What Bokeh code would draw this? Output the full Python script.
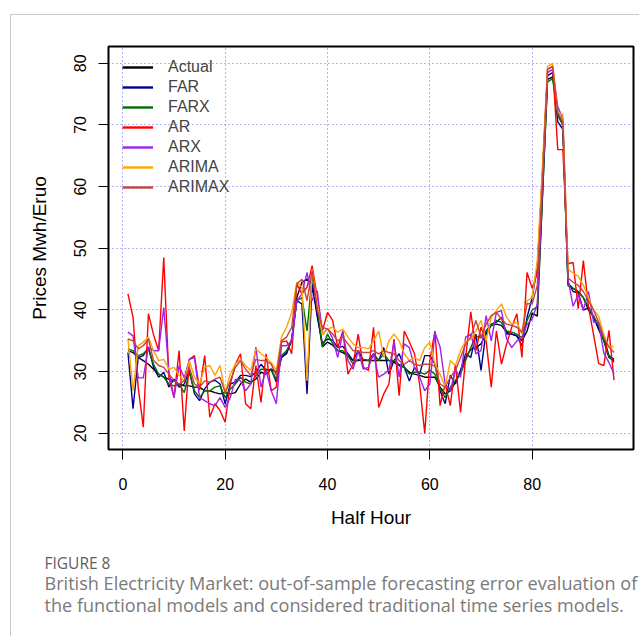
from bokeh.plotting import figure
from bokeh.models import Range1d, FixedTicker, Legend, LegendItem, Title
from bokeh.embed import file_html
from bokeh.resources import INLINE

half_hour = list(range(1, 97))

actual = [33.4, 33.1, 32.3, 31.8, 31.2, 30.4, 29.6, 29.1, 28.8, 28.5,
          28.0, 27.7, 27.7, 27.5, 27.5, 26.9, 26.9, 26.6, 26.4, 26.6,
          26.4, 26.6, 28.0, 28.8, 28.3, 28.8, 29.9, 29.6, 30.4, 29.9,
          32.3, 32.9, 35.3, 42.0, 44.5, 45.0, 44.2, 39.4, 34.0, 34.8,
          34.3, 33.4, 33.1, 32.6, 31.8, 31.8, 32.0, 31.8, 31.8, 31.8,
          31.8, 31.8, 31.5, 31.0, 30.7, 29.9, 29.6, 29.4, 29.1, 29.1,
          29.1, 27.5, 26.4, 26.9, 28.3, 30.2, 32.3, 33.6, 33.9, 34.5,
          36.1, 37.5, 37.7, 37.5, 36.4, 36.1, 35.8, 35.0, 36.6, 39.5,
          39.0, 58.0, 77.4, 77.8, 72.0, 70.0, 44.2, 43.5, 43.0, 42.0,
          40.0, 39.0, 36.8, 35.0, 32.3, 31.8]

far = [33.1, 24.0, 32.3, 32.6, 34.0, 30.7, 29.1, 29.9, 27.5, 28.8,
       27.5, 28.0, 30.2, 26.4, 25.3, 27.2, 28.3, 28.6, 28.0, 24.8,
       28.0, 28.3, 29.4, 29.4, 29.2, 29.9, 31.2, 30.2, 30.4, 28.3,
       32.3, 33.1, 35.0, 41.5, 41.0, 26.4, 44.2, 38.9, 34.6, 35.3,
       35.1, 33.9, 34.1, 32.9, 31.8, 33.4, 31.8, 31.8, 32.9, 31.8,
       33.9, 29.6, 31.8, 32.9, 30.7, 28.5, 30.7, 29.6, 32.6, 32.6,
       31.2, 26.9, 24.8, 29.4, 28.0, 30.2, 32.9, 32.3, 36.1, 30.2,
       36.6, 37.7, 38.0, 38.8, 36.1, 36.1, 35.8, 34.2, 38.8, 42.0,
       47.0, 62.0, 78.0, 78.5, 70.5, 69.3, 44.5, 43.0, 42.8, 40.0,
       40.3, 38.8, 37.0, 35.5, 32.6, 32.0]

farx = [33.7, 33.4, 32.6, 32.9, 33.7, 31.2, 29.6, 29.1, 28.0, 27.7,
        28.0, 26.6, 29.9, 26.9, 25.8, 26.9, 26.9, 27.5, 27.7, 25.8,
        27.2, 28.0, 29.1, 28.3, 28.0, 29.4, 30.4, 30.4, 30.2, 28.8,
        32.6, 33.4, 35.0, 41.5, 42.0, 36.6, 45.6, 40.5, 34.0, 36.1,
        34.6, 33.4, 33.4, 32.6, 31.2, 32.0, 32.0, 31.8, 32.6, 31.8,
        32.9, 31.8, 31.8, 31.2, 30.7, 29.6, 29.9, 29.9, 29.6, 30.2,
        29.6, 27.2, 25.8, 27.5, 28.6, 29.6, 31.8, 33.9, 35.8, 35.5,
        36.6, 37.5, 38.3, 38.0, 36.6, 36.4, 36.1, 35.5, 38.3, 40.0,
        40.5, 58.5, 77.0, 77.5, 71.5, 70.0, 43.9, 43.5, 43.0, 42.0,
        40.5, 39.0, 37.5, 35.0, 32.5, 31.5]

ar = [42.6, 38.8, 27.5, 21.0, 39.4, 36.0, 33.4, 48.5, 29.0, 25.8,
      33.4, 20.4, 32.0, 32.6, 27.0, 32.6, 22.6, 24.8, 23.7, 21.8,
      28.0, 31.2, 32.9, 24.8, 24.0, 31.0, 25.0, 32.9, 26.9, 27.5,
      34.8, 35.0, 32.9, 44.2, 42.6, 43.7, 47.2, 42.0, 36.6, 39.6,
      38.3, 33.9, 36.6, 29.6, 31.2, 36.1, 30.7, 30.2, 37.2, 24.2,
      26.4, 28.0, 35.3, 26.1, 36.6, 34.8, 32.9, 28.0, 20.0, 31.8,
      36.6, 24.5, 28.0, 24.5, 31.2, 23.4, 32.3, 39.7, 33.4, 37.2,
      35.0, 27.5, 36.6, 31.2, 34.5, 37.2, 39.4, 32.3, 46.1, 43.5,
      46.0, 62.0, 79.0, 79.5, 66.0, 66.0, 47.5, 47.7, 40.2, 48.0,
      40.5, 36.0, 31.3, 31.0, 36.7, 28.6]

arx = [36.4, 35.8, 29.0, 29.0, 34.0, 33.4, 33.4, 40.4, 30.0, 25.8,
       31.0, 29.0, 32.0, 32.3, 25.8, 25.3, 24.8, 24.5, 25.8, 24.2,
       25.8, 28.8, 28.5, 26.9, 28.0, 34.0, 27.5, 30.2, 26.9, 24.8,
       34.2, 34.2, 35.0, 41.5, 42.6, 46.1, 41.5, 43.1, 36.0, 37.0,
       35.4, 32.3, 36.4, 31.8, 30.4, 33.4, 30.4, 30.7, 32.9, 29.1,
       29.6, 30.2, 34.8, 29.1, 34.5, 33.9, 30.7, 29.1, 26.9, 28.0,
       36.4, 34.0, 28.0, 26.9, 30.2, 29.1, 35.6, 36.1, 32.9, 33.4,
       39.1, 35.0, 39.6, 39.9, 35.3, 33.9, 35.0, 35.5, 37.7, 38.5,
       41.0, 60.0, 78.5, 79.0, 73.0, 71.0, 45.0, 40.6, 42.5, 40.0,
       43.0, 38.0, 38.0, 33.0, 31.5, 29.6]

arima = [35.3, 26.9, 34.2, 34.8, 35.6, 33.4, 31.8, 32.0, 30.4, 30.7,
         29.4, 28.5, 31.8, 29.1, 28.0, 30.7, 31.0, 29.4, 31.0, 26.6,
         29.6, 31.2, 32.0, 31.0, 30.2, 33.7, 32.9, 32.3, 31.5, 30.2,
         35.6, 37.2, 39.6, 44.5, 43.7, 28.5, 46.6, 41.0, 36.0, 36.9,
         37.2, 36.4, 36.9, 35.6, 34.5, 33.9, 33.9, 33.7, 35.0, 36.6,
         32.3, 35.0, 36.1, 35.0, 32.9, 31.8, 32.3, 31.8, 33.9, 34.8,
         31.2, 29.6, 27.5, 31.8, 31.0, 33.4, 35.0, 35.3, 36.6, 38.3,
         35.0, 38.8, 39.9, 41.0, 38.8, 37.7, 38.0, 36.1, 41.5, 42.0,
         48.0, 63.0, 79.5, 80.0, 72.0, 71.7, 46.6, 46.0, 45.5, 44.0,
         42.0, 40.0, 39.0, 36.0, 34.0, 34.1]

arimax = [35.3, 35.0, 33.7, 34.2, 35.3, 31.8, 31.0, 30.7, 29.6, 28.5,
          28.0, 28.5, 30.7, 28.0, 27.5, 28.5, 28.3, 28.8, 29.1, 26.6,
          28.5, 30.7, 31.8, 30.4, 29.4, 32.0, 31.8, 31.8, 31.2, 29.4,
          35.0, 35.6, 37.2, 44.2, 45.0, 41.5, 46.4, 40.0, 37.2, 36.9,
          36.1, 35.0, 35.6, 34.5, 33.4, 33.4, 33.1, 33.1, 33.4, 32.9,
          33.4, 33.1, 32.9, 31.8, 31.2, 31.8, 31.2, 31.0, 31.2, 31.2,
          30.9, 28.0, 27.5, 29.1, 30.2, 32.3, 34.5, 35.6, 38.3, 35.6,
          37.7, 39.1, 39.6, 38.5, 37.7, 37.5, 37.2, 36.4, 41.0, 41.0,
          44.0, 61.0, 79.0, 79.5, 72.0, 70.5, 45.2, 44.5, 44.0, 43.0,
          41.5, 40.0, 38.0, 35.5, 34.0, 33.1]

series_names = ["Actual", "FAR", "FARX", "AR", "ARX", "ARIMA", "ARIMAX"]
series_values = [actual, far, farx, ar, arx, arima, arimax]
series_colors = ["#000000", "#00008B", "#007000", "#FF0000", "#A020F0", "#FFA500", "#C44444"]

x_ticks = [0, 20, 40, 60, 80]
y_ticks = [20, 30, 40, 50, 60, 70, 80]

caption_label = "FIGURE 8"
caption_lines = [
    "British Electricity Market: out-of-sample forecasting error evaluation of",
    "the functional models and considered traditional time series models.",
]

FONT = "Liberation Sans"
CAP_FONT = "Open Sans"

# The page is offset by a thin grey rule (10 px from the left, 14 px from the top).
p = figure(width=629, height=622,
           x_range=Range1d(-2.8, 99.8), y_range=Range1d(17.38, 82.72),
           output_backend="svg", toolbar_location=None,
           min_border_left=97, min_border_right=7,
           min_border_top=31, min_border_bottom=188)
p.styles = {"margin-left": "10px", "margin-top": "14px",
            "border-left": "1px solid #c8c8c8", "border-top": "1px solid #c8c8c8"}
p.background_fill_color = "white"
p.border_fill_color = "white"
p.outline_line_color = "black"
p.outline_line_width = 2

for ax in (p.xaxis[0], p.yaxis[0]):
    ax.axis_line_color = None
    ax.major_tick_in = 0
    ax.major_tick_out = 10
    ax.major_tick_line_color = "black"
    ax.major_tick_line_width = 1
    ax.minor_tick_line_color = None
    ax.major_label_text_font = FONT
    ax.major_label_text_font_size = "16px"
    ax.major_label_text_color = "black"
    ax.axis_label_text_font = FONT
    ax.axis_label_text_font_size = "19px"
    ax.axis_label_text_font_style = "normal"
    ax.axis_label_text_color = "black"

p.xaxis.ticker = FixedTicker(ticks=x_ticks)
p.yaxis.ticker = FixedTicker(ticks=y_ticks)
p.xaxis.axis_label = "Half Hour"
p.yaxis.axis_label = "Prices Mwh/Eruo"
p.yaxis.major_label_orientation = "vertical"
p.xaxis.major_label_standoff = 18
p.xaxis.axis_label_standoff = 14
p.yaxis.major_label_standoff = 12
p.yaxis.axis_label_standoff = 22

for g in (p.xgrid[0], p.ygrid[0]):
    g.grid_line_color = "#0000FF"
    g.grid_line_alpha = 0.6
    g.grid_line_dash = "1 3"
    g.grid_line_width = 1

items = []
for name, vals, col in zip(series_names, series_values, series_colors):
    p.line(half_hour, vals, line_color=col, line_width=1.4)
    # single-point line: draws nothing in the plot, only supplies a thicker legend key
    key = p.line(half_hour[:1], vals[:1], line_color=col, line_width=2.4)
    items.append(LegendItem(label=name, renderers=[key]))

legend = Legend(items=items, location=(14, 252), margin=0, padding=0, spacing=0,
                label_height=20, glyph_height=20, glyph_width=31, label_standoff=15,
                label_text_font=FONT, label_text_font_size="16px",
                background_fill_alpha=0, border_line_color=None)
p.add_layout(legend)

# caption below the chart
p.add_layout(Title(text=caption_label, align="left", offset=-64, standoff=39.2,
                   text_font=CAP_FONT, text_font_size="15.5px", text_font_style="normal",
                   text_color="#5e5e5e"), "below")
p.add_layout(Title(text="\n".join(caption_lines), align="left", offset=-64, standoff=-45.4,
                   vertical_align="top", text_line_height=0.933,
                   text_font=CAP_FONT, text_font_size="18.1px", text_font_style="normal",
                   text_color="#7a7a7a"), "below")

open("out.html", "w").write(file_html(p, INLINE))
